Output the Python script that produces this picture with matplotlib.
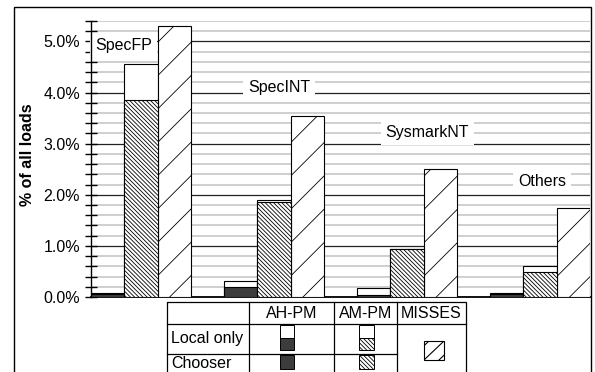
import matplotlib
matplotlib.use("Agg")
import matplotlib.pyplot as plt
from matplotlib.patches import Rectangle
from matplotlib.ticker import MultipleLocator, FuncFormatter

plt.rcParams['font.family'] = ['Liberation Sans', 'DejaVu Sans']
plt.rcParams['hatch.linewidth'] = 0.6

# Benchmark suites and measured rates (% of all loads)
groups = ["SpecFP", "SpecINT", "SysmarkNT", "Others"]
ahpm_local_only = [0.07, 0.31, 0.17, 0.07]
ahpm_chooser = [0.05, 0.20, 0.04, 0.06]
ampm_local_only = [4.55, 1.90, 0.94, 0.61]
ampm_chooser = [3.85, 1.85, 0.93, 0.49]
misses = [5.31, 3.55, 2.51, 1.75]

DARK = "#3c3c3c"
DENSE = "\\\\\\\\\\\\\\\\"
FS = 11.5
W, H = 595, 372

fig = plt.figure(figsize=(W / 100, H / 100), dpi=100)
ax = fig.add_axes([91 / W, 1 - 297 / H, (590 - 91) / W, (297 - 21) / H])

n = len(groups)
x_ah = [4 * g for g in range(n)]
x_am = [4 * g + 1 for g in range(n)]
x_ms = [4 * g + 2 for g in range(n)]

ax.bar(x_ah, ahpm_local_only, width=1.0, color="white", edgecolor="black", linewidth=0.8, zorder=3)
ax.bar(x_ah, ahpm_chooser, width=1.0, color=DARK, edgecolor="black", linewidth=0.8, zorder=4)
ax.bar(x_am, ampm_local_only, width=1.0, color="white", edgecolor="black", linewidth=0.8, zorder=3)
ax.bar(x_am, ampm_chooser, width=1.0, color="white", edgecolor="black", hatch=DENSE,
       linewidth=0.8, zorder=4)
ax.bar(x_ms, misses, width=1.0, color="white", edgecolor="black", hatch="/", linewidth=0.8, zorder=3)

ax.set_xlim(-0.5, 4 * n - 1.5)
ax.set_ylim(0, 5.4)
ax.set_xticks([])
ax.yaxis.set_major_locator(MultipleLocator(1.0))
ax.yaxis.set_minor_locator(MultipleLocator(0.2))
ax.yaxis.set_major_formatter(FuncFormatter(lambda v, p: f"{v:.1f}%"))
ax.tick_params(axis="y", which="both", direction="inout", length=8, width=1.0, labelsize=FS, pad=4)
ax.grid(axis="y", which="minor", color="#cfcfcf", linewidth=1.4, zorder=0)
ax.grid(axis="y", which="major", color="#222222", linewidth=0.9, zorder=1)
ax.set_axisbelow(True)
for side in ("top", "right"):
    ax.spines[side].set_visible(False)
ax.spines["left"].set_linewidth(1.0)
ax.spines["bottom"].set_linewidth(1.3)

# Suite names placed over the gridlines
label_pos = [(-0.38, 4.93), (4.22, 4.09), (8.36, 3.21), (12.33, 2.25)]
for name, (lx, ly) in zip(groups, label_pos):
    ax.text(lx, ly, name, ha="left", va="center", fontsize=FS, zorder=2,
            bbox=dict(boxstyle="square,pad=0.3", fc="white", ec="none"))

fig.text(28 / W, 1 - 155 / H, "% of all loads", rotation=90, ha="center", va="center",
         fontsize=FS, fontweight="bold")

# Overlay in pixel coordinates for the frame and the key table
ov = fig.add_axes([0, 0, 1, 1])
ov.set_xlim(0, W)
ov.set_ylim(H, 0)
ov.axis("off")
ov.patch.set_visible(False)

ov.add_patch(Rectangle((14, 7), 577, 400, fill=False, edgecolor="black", linewidth=1.0, clip_on=False))

LW = 0.9
tx0, tx1, tx2, tx3, tx4 = 167, 249, 334, 397, 466
ty0, ty1, ty2, ty3 = 301.7, 324, 354, 380
ov.add_patch(Rectangle((tx0, ty0), tx4 - tx0, ty3 - ty0, fill=False, edgecolor="black", linewidth=LW, clip_on=False))
for xv in (tx1, tx2, tx3):
    ov.plot([xv, xv], [ty0, ty3], color="black", linewidth=LW)
ov.plot([tx0, tx4], [ty1, ty1], color="black", linewidth=LW)
ov.plot([tx0, tx3], [ty2, ty2], color="black", linewidth=LW)

ov.text((tx1 + tx2) / 2, 313.5, "AH-PM", ha="center", va="center", fontsize=FS)
ov.text((tx2 + tx3) / 2, 313.5, "AM-PM", ha="center", va="center", fontsize=FS)
ov.text((tx3 + tx4) / 2, 313.5, "MISSES", ha="center", va="center", fontsize=FS)
ov.text(171, 339, "Local only", ha="left", va="center", fontsize=FS)
ov.text(171, 364, "Chooser", ha="left", va="center", fontsize=FS)

# AH-PM key swatches
ov.add_patch(Rectangle((280, 325), 14, 12.7, facecolor="white", edgecolor="black", linewidth=0.7))
ov.add_patch(Rectangle((280, 337.7), 14, 12.3, facecolor=DARK, edgecolor="black", linewidth=0.7))
ov.add_patch(Rectangle((280, 355), 14, 14, facecolor=DARK, edgecolor="black", linewidth=0.7))
# AM-PM key swatches
ov.add_patch(Rectangle((359, 325), 15, 12.7, facecolor="white", edgecolor="black", linewidth=0.7))
ov.add_patch(Rectangle((359, 337.7), 15, 12.3, facecolor="white", edgecolor="black",
                       hatch=DENSE, linewidth=0.7))
ov.add_patch(Rectangle((359, 355), 15, 14, facecolor="white", edgecolor="black",
                       hatch=DENSE, linewidth=0.7))
# MISSES key swatch with its diagonal stripes
miss_box = Rectangle((424, 341), 20, 19, facecolor="white", edgecolor="black", linewidth=0.8, zorder=2)
ov.add_patch(miss_box)
for off in (-15, 0, 15):
    ln, = ov.plot([424 + off, 444 + off], [360, 341], color="black", linewidth=0.8, zorder=3)
    ln.set_clip_path(miss_box)

fig.savefig("out.png", dpi=100)
